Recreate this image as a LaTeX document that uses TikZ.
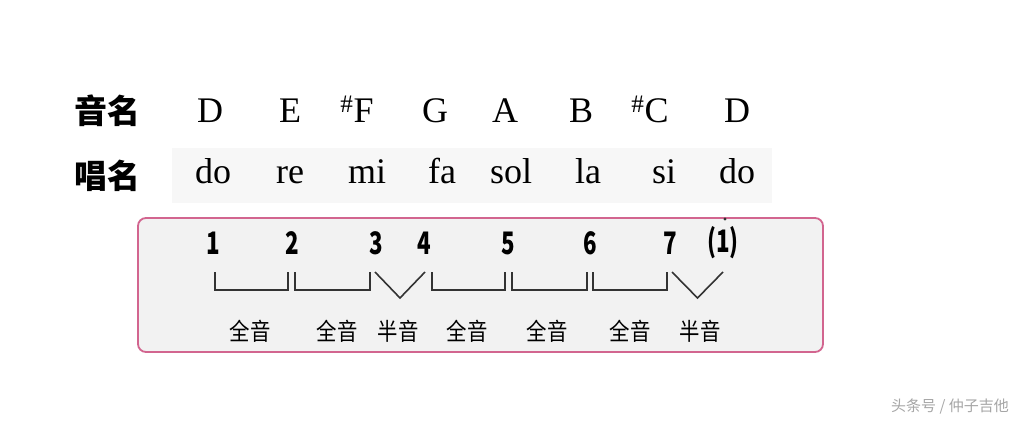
\documentclass[tikz,border=0pt]{standalone}
\usepackage{fontspec}
\setmainfont{Liberation Serif}
\newfontfamily\cjk{Noto Sans CJK SC}
\usetikzlibrary{positioning}
\definecolor{rahmen}{HTML}{D2658F}
\definecolor{kasten}{HTML}{F2F2F2}
\definecolor{band}{HTML}{F7F7F7}
\newcommand\schmal[1]{\scalebox{0.72}[1]{#1}}
\newcommand\halbschmal[1]{\scalebox{0.85}[1]{#1}}
\tikzset{
    %Define styles for the texts
    kopf/.style={
           font=\cjk\bfseries\fontsize{33}{33}\selectfont},
    ton/.style={
           anchor=base,
           font=\fontsize{36}{36}\selectfont},
    silbe/.style={
           anchor=base,
           font=\fontsize{36}{36}\selectfont},
    ziffer/.style={
           font=\cjk\bfseries\fontsize{31}{31}\selectfont},
    schritt/.style={
           font=\cjk\fontsize{24}{24}\selectfont},
    % Define bracket style
    klammer/.style={
           draw=black!80,
           line width=1.6pt}
}
\begin{document}
\begin{tikzpicture}[x=1pt,y=-1pt]
\useasboundingbox[fill=white] (0,0) rectangle (1028,428);
 %backgrounds
\fill[band] (172,148) rectangle (772,203);
\draw[rahmen,fill=kasten,line width=1.8pt,rounded corners=8pt] (138,218) rectangle (823,352);
 %heads
\node[kopf](yinming) at (107,111){音名};
\node[kopf](changming) at (107,176){唱名};
 %note names
\foreach \x/\t [count=\i] in {210/D,290/E,357/{\textsuperscript{\#}F},435/G,505/A,581/B,650/{\textsuperscript{\#}C},737/D}
  \node[ton](n\i) at (\x,122){\t};
 %syllables
\foreach \x/\t [count=\i] in {213/do,290/re,367/mi,442/fa,511/sol,588/la,664/si,737/do}
  \node[silbe](s\i) at (\x,183){\t};
 %numbers
\foreach \x/\t [count=\i] in {213/1,292/2,376/3,424/4,508/5,590/6,670/7,723/(1)}
  \node[ziffer](d\i) at (\x,243){\schmal{\t}};
\fill[black!80] (725,219) circle (1.6pt);
 %brackets
\foreach \a/\b in {215/288,295/370,432/505,512/587,593/667}
  \draw[klammer] (\a,272) -- (\a,290) -- (\b,290) -- (\b,272);
\foreach \a/\b in {375/425,672/723}
  \draw[klammer] (\a,272) -- ({(\a+\b)/2},298) -- (\b,272);
 %steps
\foreach \x/\t [count=\i] in {250/全音,337/全音,398/半音,467/全音,547/全音,630/全音,700/半音}
  \node[schritt](h\i) at (\x,331){\halbschmal{\t}};
 %mark
\node[font=\cjk\fontsize{15}{15}\selectfont,text=black!35](marke) at (950,407){头条号 / 仲子吉他};
\end{tikzpicture}
\end{document}
